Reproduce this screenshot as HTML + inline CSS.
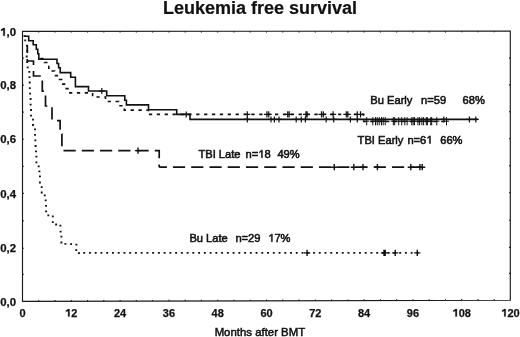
<!DOCTYPE html><html><head><meta charset="utf-8"><style>
html,body{margin:0;padding:0;background:#fff;width:520px;height:337px;overflow:hidden}
svg{display:block;will-change:transform;filter:blur(0.25px)}
text{font-family:"Liberation Sans",sans-serif;fill:#111}
.b{font-weight:bold;font-size:11px;stroke:#111;stroke-width:0.25px}
.h{fill-opacity:0;stroke-opacity:0}
.r{font-size:11.15px;stroke:#111;stroke-width:0.55px}
</style></head><body>
<svg width="520" height="337" viewBox="0 0 520 337">
<text x="260.0" y="13.9" text-anchor="middle" style="font-weight:bold;font-size:18px;stroke:#111;stroke-width:0.2px">Leukemia free survival</text>
<path d="M22.5,31.40L510.3,31.15L510.3,300.20L22.5,301.40Z" fill="none" stroke="#1a1a1a" stroke-width="1.15" stroke-linejoin="miter"/>
<path d="M38.77,301.36v-1.2M38.77,31.39v1.2M55.03,301.32v-1.2M55.03,31.38v1.2M71.30,301.28v-1.2M71.30,31.38v1.2M87.57,301.24v-1.2M87.57,31.37v1.2M103.83,301.20v-1.2M103.83,31.36v1.2M120.10,301.16v-1.2M120.10,31.35v1.2M136.37,301.12v-1.2M136.37,31.34v1.2M152.63,301.08v-1.2M152.63,31.33v1.2M168.90,301.04v-1.2M168.90,31.32v1.2M185.17,301.00v-1.2M185.17,31.32v1.2M201.43,300.96v-1.2M201.43,31.31v1.2M217.70,300.92v-1.2M217.70,31.30v1.2M233.97,300.88v-1.2M233.97,31.29v1.2M250.23,300.84v-1.2M250.23,31.28v1.2M266.50,300.80v-1.2M266.50,31.27v1.2M282.77,300.76v-1.2M282.77,31.27v1.2M299.03,300.72v-1.2M299.03,31.26v1.2M315.30,300.68v-1.2M315.30,31.25v1.2M331.57,300.64v-1.2M331.57,31.24v1.2M347.83,300.60v-1.2M347.83,31.23v1.2M364.10,300.56v-1.2M364.10,31.22v1.2M380.37,300.52v-1.2M380.37,31.22v1.2M396.63,300.48v-1.2M396.63,31.21v1.2M412.90,300.44v-1.2M412.90,31.20v1.2M429.17,300.40v-1.2M429.17,31.19v1.2M445.43,300.36v-1.2M445.43,31.18v1.2M461.70,300.32v-1.2M461.70,31.17v1.2M477.97,300.28v-1.2M477.97,31.17v1.2M494.23,300.24v-1.2M494.23,31.16v1.2M22.50,274.30h1.3M510.30,273.40h-1.3M22.50,248.20h1.3M510.30,247.40h-1.3M22.50,220.90h1.3M510.30,220.20h-1.3M22.50,193.40h1.3M510.30,192.80h-1.3M22.50,166.30h1.3M510.30,165.80h-1.3M22.50,139.20h1.3M510.30,138.80h-1.3M22.50,112.10h1.3M510.30,111.80h-1.3M22.50,85.10h1.3M510.30,84.90h-1.3M22.50,58.10h1.3M510.30,58.00h-1.3" stroke="#1a1a1a" stroke-width="1.1" fill="none"/>
<text class="b" x="16.1" y="305.95" text-anchor="end" style="font-size:11.4px">0,0</text>
<text class="b" x="16.1" y="251.95" text-anchor="end" style="font-size:11.4px">0,2</text>
<text class="b" x="16.1" y="197.60" text-anchor="end" style="font-size:11.4px">0,4</text>
<text class="b" x="16.1" y="143.10" text-anchor="end" style="font-size:11.4px">0,6</text>
<text class="b" x="16.1" y="88.95" text-anchor="end" style="font-size:11.4px">0,8</text>
<text class="b" x="16.1" y="35.85" text-anchor="end" style="font-size:11.4px"><tspan class="h">1</tspan>,0</text>
<text class="b" x="22.50" y="316.6" text-anchor="middle">0</text>
<text class="b" x="71.30" y="316.6" text-anchor="middle"><tspan class="h">1</tspan>2</text>
<text class="b" x="120.10" y="316.6" text-anchor="middle">24</text>
<text class="b" x="168.90" y="316.6" text-anchor="middle">36</text>
<text class="b" x="217.70" y="316.6" text-anchor="middle">48</text>
<text class="b" x="266.50" y="316.6" text-anchor="middle">60</text>
<text class="b" x="315.30" y="316.6" text-anchor="middle">72</text>
<text class="b" x="364.10" y="316.6" text-anchor="middle">84</text>
<text class="b" x="412.90" y="316.6" text-anchor="middle">96</text>
<text class="b" x="461.70" y="316.6" text-anchor="middle"><tspan class="h">1</tspan>08</text>
<text class="b" x="510.50" y="316.6" text-anchor="middle"><tspan class="h">1</tspan>20</text>
<text x="259.9" y="336.2" text-anchor="middle" style="font-size:11.4px;stroke:#111;stroke-width:0.5px">Months after BMT</text>
<text class="r" x="370.3" y="103.6">Bu Early</text><text class="r" x="421.0" y="103.6">n=59</text><text class="r" x="462.6" y="103.6">68%</text>
<text class="r" x="357.6" y="143.6">TBI Early</text><text class="r" x="407.4" y="143.6">n=6<tspan class="h">1</tspan></text><text class="r" x="440.2" y="143.6">66%</text>
<text class="r" x="198.4" y="157.8">TBI Late</text><text class="r" x="245.6" y="157.8">n=<tspan class="h">1</tspan>8</text><text class="r" x="277.4" y="157.8">49%</text>
<text class="r" x="189.4" y="241.8">Bu Late</text><text class="r" x="235.4" y="241.8">n=29</text><text class="r" x="268.2" y="241.8"><tspan class="h">1</tspan>7%</text>
<path d="M24.20,36.20H28.70V40.80H33.20V44.80H36.30V49.30H37.80V53.80H38.80V59.30H57.00V63.50H58.60V67.80H60.20V72.60H70.70V77.30H75.40V86.60H88.50V91.00H106.70V95.80H124.80V100.20H126.40V104.90H148.50V109.70H176.70V114.40H190.00V119.40H477.50" stroke="#111" stroke-width="1.6" fill="none"/>
<path d="M101.80,88.00V94.00M98.80,91.00H104.80M186.20,111.40V117.40M183.20,114.40H189.20M247.30,116.40V122.40M244.30,119.40H250.30M271.00,116.40V122.40M268.00,119.40H274.00M274.40,116.40V122.40M271.40,119.40H277.40M279.00,116.40V122.40M276.00,119.40H282.00M296.20,116.40V122.40M293.20,119.40H299.20M301.30,116.40V122.40M298.30,119.40H304.30M305.40,116.40V122.40M302.40,119.40H308.40M326.20,116.40V122.40M323.20,119.40H329.20M333.70,116.40V122.40M330.70,119.40H336.70M350.40,116.40V122.40M347.40,119.40H353.40M357.30,116.40V122.40M354.30,119.40H360.30M443.80,116.40V122.40M440.80,119.40H446.80M469.40,116.40V122.40M466.40,119.40H472.40M475.80,116.40V122.40M472.80,119.40H478.80" stroke="#111" stroke-width="1.2" fill="none"/>
<path d="M38.80,58.60H44.50V62.50H48.80V71.00H54.60V75.60H58.50V79.50H62.00V84.10H65.40V88.60H68.80V92.90H92.60V97.00H105.50V101.50H118.80V105.70H124.30V110.10H148.50V114.40" stroke="#111" stroke-width="1.6" fill="none" stroke-dasharray="3.30 4.58" stroke-dashoffset="6.42"/>
<path d="M148.5,114.40H363.7V121.50H449" stroke="#111" stroke-width="1.6" fill="none" stroke-dasharray="3.30 4.58" stroke-dashoffset="7.48"/>
<path d="M247.30,111.20V117.60M244.30,114.40H250.30M266.90,111.20V117.60M263.90,114.40H269.90M268.70,111.20V117.60M265.70,114.40H271.70M287.70,111.20V117.60M284.70,114.40H290.70M289.20,111.20V117.60M286.20,114.40H292.20M306.00,111.20V117.60M303.00,114.40H309.00M307.10,111.20V117.60M304.10,114.40H310.10M321.50,111.20V117.60M318.50,114.40H324.50M323.30,111.20V117.60M320.30,114.40H326.30M333.10,111.20V117.60M330.10,114.40H336.10M346.30,111.20V117.60M343.30,114.40H349.30M347.80,111.20V117.60M344.80,114.40H350.80M357.30,111.20V117.60M354.30,114.40H360.30M360.50,111.20V117.60M357.50,114.40H363.50" stroke="#111" stroke-width="1.2" fill="none"/>
<path d="M366.70,117.10V125.30M364.20,121.20H369.20M372.80,117.10V125.30M370.30,121.20H375.30M375.50,117.10V125.30M373.00,121.20H378.00M377.20,117.10V125.30M374.70,121.20H379.70M379.20,117.10V125.30M376.70,121.20H381.70M381.50,117.10V125.30M379.00,121.20H384.00M383.20,117.10V125.30M380.70,121.20H385.70M385.20,117.10V125.30M382.70,121.20H387.70M393.30,117.10V125.30M390.80,121.20H395.80M394.70,117.10V125.30M392.20,121.20H397.20M398.70,117.10V125.30M396.20,121.20H401.20M401.70,117.10V125.30M399.20,121.20H404.20M404.80,117.10V125.30M402.30,121.20H407.30M407.10,117.10V125.30M404.60,121.20H409.60M411.80,117.10V125.30M409.30,121.20H414.30M413.20,117.10V125.30M410.70,121.20H415.70M414.50,117.10V125.30M412.00,121.20H417.00M417.90,117.10V125.30M415.40,121.20H420.40M419.60,117.10V125.30M417.10,121.20H422.10M421.90,117.10V125.30M419.40,121.20H424.40M423.60,117.10V125.30M421.10,121.20H426.10M426.30,117.10V125.30M423.80,121.20H428.80M427.40,117.10V125.30M424.90,121.20H429.90M430.70,117.10V125.30M428.20,121.20H433.20M431.70,117.10V125.30M429.20,121.20H434.20M436.80,117.10V125.30M434.30,121.20H439.30M446.50,117.10V125.30M444.00,121.20H449.00" stroke="#111" stroke-width="1.0" fill="none"/>
<path d="M27.30,45.00V61.00H33.50V76.00H42.30V91.20H45.50V106.00H52.00V120.60H60.10V134.00H61.90V150.60H159.20V167.20" stroke="#111" stroke-width="1.7" fill="none" stroke-dasharray="12.2 6.05" stroke-dashoffset="4.2"/>
<path d="M159.2,167.2H424" stroke="#111" stroke-width="1.7" fill="none" stroke-dasharray="12.2 6.05" stroke-dashoffset="4.5"/>
<path d="M138.00,147.50V153.70M134.90,150.60H141.10M334.30,164.10V170.30M331.20,167.20H337.40M353.80,164.10V170.30M350.70,167.20H356.90M363.00,164.10V170.30M359.90,167.20H366.10M377.40,164.10V170.30M374.30,167.20H380.50M410.80,164.10V170.30M407.70,167.20H413.90M419.90,164.10V170.30M416.80,167.20H423.00M422.20,164.10V170.30M419.10,167.20H425.30" stroke="#111" stroke-width="1.4" fill="none"/>
<path d="M23.55,35.30h1.9v1.8h-1.9zM24.25,39.50h1.9v1.8h-1.9zM25.95,44.70h1.9v1.8h-1.9zM26.25,49.90h1.9v1.8h-1.9zM25.75,55.60h1.9v1.8h-1.9zM26.25,61.10h1.9v1.8h-1.9zM26.75,66.50h1.9v1.8h-1.9zM28.35,71.00h1.9v1.8h-1.9zM28.55,76.30h1.9v1.8h-1.9zM28.75,81.60h1.9v1.8h-1.9zM28.85,87.30h1.9v1.8h-1.9zM29.15,92.70h1.9v1.8h-1.9zM29.65,98.10h1.9v1.8h-1.9zM29.65,103.70h1.9v1.8h-1.9zM30.05,109.10h1.9v1.8h-1.9zM30.05,114.80h1.9v1.8h-1.9zM32.05,118.80h1.9v1.8h-1.9zM32.05,124.10h1.9v1.8h-1.9zM34.05,128.40h1.9v1.8h-1.9zM34.05,134.00h1.9v1.8h-1.9zM34.35,139.40h1.9v1.8h-1.9zM34.65,145.10h1.9v1.8h-1.9zM35.05,150.40h1.9v1.8h-1.9zM35.45,155.70h1.9v1.8h-1.9zM35.45,161.40h1.9v1.8h-1.9zM37.75,165.50h1.9v1.8h-1.9zM38.45,170.40h1.9v1.8h-1.9zM38.95,175.50h1.9v1.8h-1.9zM38.95,181.60h1.9v1.8h-1.9zM40.75,186.20h1.9v1.8h-1.9zM40.75,191.60h1.9v1.8h-1.9zM43.75,194.50h1.9v1.8h-1.9zM44.75,199.50h1.9v1.8h-1.9zM45.05,204.90h1.9v1.8h-1.9zM45.15,210.50h1.9v1.8h-1.9zM47.35,214.50h1.9v1.8h-1.9zM51.85,215.50h1.9v1.8h-1.9zM51.85,221.20h1.9v1.8h-1.9zM55.15,223.60h1.9v1.8h-1.9zM59.45,224.80h1.9v1.8h-1.9zM59.65,230.80h1.9v1.8h-1.9zM60.45,235.70h1.9v1.8h-1.9zM60.45,241.60h1.9v1.8h-1.9zM64.45,243.00h1.9v1.8h-1.9zM70.15,243.20h1.9v1.8h-1.9zM75.45,243.70h1.9v1.8h-1.9zM75.35,249.20h1.9v1.8h-1.9zM77.95,252.30h1.9v1.8h-1.9z" fill="#111"/>
<path d="M78.90,252.90H419.0" stroke="#111" stroke-width="1.8" fill="none" stroke-dasharray="1.90 3.845" stroke-dashoffset="1.395"/>
<path d="M307.10,249.70V256.10M304.00,252.90H310.20M384.00,249.70V256.10M380.90,252.90H387.10M385.20,249.70V256.10M382.10,252.90H388.30M395.20,249.70V256.10M392.10,252.90H398.30M417.30,249.70V256.10M414.20,252.90H420.40" stroke="#111" stroke-width="1.4" fill="none"/>
<path transform="matrix(0.00557,0,0,-0.00557,0.26,35.85)" d="M540,0L540,1040L130,890L130,1130L590,1409L820,1409L820,0Z" fill="#111" stroke="#111" stroke-width="44.9"/><path transform="matrix(0.00537,0,0,-0.00537,65.18,316.60)" d="M540,0L540,1040L130,890L130,1130L590,1409L820,1409L820,0Z" fill="#111" stroke="#111" stroke-width="46.5"/><path transform="matrix(0.00537,0,0,-0.00537,452.51,316.60)" d="M540,0L540,1040L130,890L130,1130L590,1409L820,1409L820,0Z" fill="#111" stroke="#111" stroke-width="46.5"/><path transform="matrix(0.00537,0,0,-0.00537,501.31,316.60)" d="M540,0L540,1040L130,890L130,1130L590,1409L820,1409L820,0Z" fill="#111" stroke="#111" stroke-width="46.5"/><path transform="matrix(0.00544,0,0,-0.00544,426.31,143.60)" d="M583,0L583,1147L223,936L223,1110L577,1409L763,1409L763,0Z" fill="#111" stroke="#111" stroke-width="101.0"/><path transform="matrix(0.00544,0,0,-0.00544,258.30,157.80)" d="M583,0L583,1147L223,936L223,1110L577,1409L763,1409L763,0Z" fill="#111" stroke="#111" stroke-width="101.0"/><path transform="matrix(0.00544,0,0,-0.00544,268.20,241.80)" d="M583,0L583,1147L223,936L223,1110L577,1409L763,1409L763,0Z" fill="#111" stroke="#111" stroke-width="101.0"/>
</svg></body></html>
